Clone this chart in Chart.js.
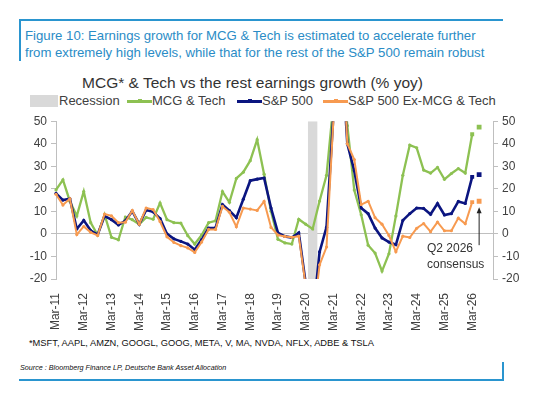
<!DOCTYPE html>
<html lang="en">
<head>
    <meta charset="UTF-8">
    <title>MCG & Tech vs the rest earnings growth</title>
    <script src="https://cdn.jsdelivr.net/npm/chart.js"></script>
    <style>
        body {
            margin: 0;
            padding: 0;
            width: 551px;
            height: 402px;
            background: #fff;
            font-family: "Liberation Sans", Arial, sans-serif;
            position: relative;
            overflow: hidden;
        }
        .abs { position: absolute; white-space: nowrap; }
        .frame { position: absolute; background: #2A95CF; }
        .fig-title {
            left: 25px; top: 27px;
            font-size: 13.2px; line-height: 17px;
            color: #2A8CC6;
        }
        .chart-title {
            left: 0; width: 505px; top: 74px;
            text-align: center;
            font-size: 15.5px; line-height: 18px;
            color: #333;
        }
        .leg { font-size: 13px; line-height: 14px; color: #404040; top: 94px; }
        .leg-line { position: absolute; top: 100px; width: 25px; height: 2.5px; }
        .leg-line::after {
            content: ""; position: absolute; left: 11px; top: -1px;
            width: 4px; height: 4px; background: inherit;
        }
        .chart-box { position: absolute; left: 0; top: 110px; width: 551px; height: 225px; }
        .note { font-size: 12px; line-height: 14px; color: #333; left: 427px; }
        .footnote { left: 29px; top: 337px; font-size: 9.3px; line-height: 12px; color: #111; }
        .source { left: 20px; top: 363px; font-size: 7.2px; line-height: 10px; font-style: italic; color: #111; }
    </style>
</head>
<body>

    <!-- blue frame round the figure -->
    <div class="frame" style="left:19px; top:19px; width:484px; height:2px;"></div>
    <div class="frame" style="left:19px; top:19px; width:2px; height:42px;"></div>
    <div class="frame" style="left:19px; top:379px; width:485px; height:2px;"></div>
    <div class="frame" style="left:502px; top:362px; width:2px; height:19px;"></div>

    <div class="abs fig-title">Figure 10: Earnings growth for MCG &amp; Tech is estimated to accelerate further<br>from extremely high levels, while that for the rest of the S&amp;P 500 remain robust</div>

    <div class="abs chart-title">MCG* &amp; Tech vs the rest earnings growth (% yoy)</div>

    <!-- legend -->
    <div class="abs" style="left:30px; top:95px; width:28px; height:12px; background:#D9D9D9;"></div>
    <div class="abs leg" style="left:59px;">Recession</div>
    <div class="leg-line" style="left:127px; background:#8DC152;"></div>
    <div class="abs leg" style="left:152px;">MCG &amp; Tech</div>
    <div class="leg-line" style="left:237px; background:#0B1580;"></div>
    <div class="abs leg" style="left:262px;">S&amp;P 500</div>
    <div class="leg-line" style="left:323px; background:#F79A50;"></div>
    <div class="abs leg" style="left:348px;">S&amp;P 500 Ex-MCG &amp; Tech</div>

    <div class="chart-box">
        <canvas id="chart"></canvas>
    </div>

    <div class="abs note" style="top:241px;">Q2 2026</div>
    <div class="abs note" style="top:257px;">consensus</div>

    <div class="abs footnote">*MSFT, AAPL, AMZN, GOOGL, GOOG, META, V, MA, NVDA, NFLX, ADBE &amp; TSLA</div>
    <div class="abs source">Source : Bloomberg Finance LP, Deutsche Bank Asset Allocation</div>

    <script>
        // quarters Mar-11 .. Dec-26
        const years = ['11', '12', '13', '14', '15', '16', '17', '18', '19', '20', '21', '22', '23', '24', '25', '26'];
        const months = ['Mar', 'Jun', 'Sep', 'Dec'];
        const quarterLabels = [];
        years.forEach(y => months.forEach(m => quarterLabels.push(m + '-' + y)));

        // actuals, Mar-11 .. Mar-26 (% yoy)
        const mcgTech = [
            19.5, 24, 14.5, 8,
            18.8, 5, -0.5, 8.5,
            -1.5, -2.6, 7.5, 6.3,
            4.3, 7.3, 6.5, 13.7,
            6.3, 5, 4.8, -0.8,
            -4.5, -0.5, 5, 5.8,
            18.8, 14, 24.6, 27.4,
            32.5, 41.8, 26.5, 10,
            -2.4, -4, -4.5, 6.5,
            4.3, 2.2, 14.6, 26,
            58, 85, 48, 19.5,
            8.5, -5, -8.5, -16.5,
            -8.8, 8, 26, 39.4,
            38.2, 28.3, 27, 29.5,
            24.2, 26.8, 29, 27,
            44.2
        ];
        const sp500 = [
            18, 15, 15.6, 2.2,
            6, 1.5, -0.3, 7.9,
            6.3, 4, 5.8, 10.1,
            4.3, 10.6, 9.8, 6.8,
            0, -2.2, -3.3, -4.5,
            -7, -2.5, 2.6, 2.7,
            13, 10.3, 7.2, 15.4,
            23.6, 24.3, 24.8, 11.5,
            0.5, -1.1, -1.6, 0.5,
            -22, -38, -8, 3,
            53, 90, 40, 28,
            11.5, 9, 2.6, -1.8,
            -3.6, -4.8, 6, 9,
            11.5, 11.3, 8.7, 13.5,
            8.4, 9, 14.4, 13.5,
            25.3
        ];
        const spExMcg = [
            17.6, 12.8, 15.6, -0.3,
            3.3, 0.7, -0.7, 8.8,
            8, 5, 5.2, 10.4,
            4.3, 11.5, 10.8, 5.5,
            -1.3, -3.8, -5.2, -6.2,
            -8.2, -3.6, 2, 2,
            12.2, 9.6, 3.2, 11.5,
            11, 10.4, 14.4, 2.9,
            -0.5, -1.1, -1.5, -1,
            -23, -40, -13.7, -5.8,
            51, 100, 40, 33,
            13, 14.5, 7.2, 4.3,
            -0.7, -7.9, -1, -1.6,
            2.5, 4.6, 1, 5.2,
            1.4, 1.4, 7, 4.5,
            14.1
        ];

        // Q2 2026 consensus
        const consensusQuarter = 'Jun-26';
        const mcgTechConsensus = 47.4;
        const sp500Consensus = 26.3;
        const spExMcgConsensus = 14.5;

        const recessionQuarters = ['Jun-20'];

        const yTicks = [-20, -10, 0, 10, 20, 30, 40, 50];

        const GREEN = '#8DC152';
        const NAVY = '#0B1580';
        const ORANGE = '#F79A50';
        const AXIS = '#BFBFBF';
        const TICK_TEXT = '#404040';

        const lastActual = mcgTech.length - 1;
        const consIndex = quarterLabels.indexOf(consensusQuarter);

        function pad(arr) {
            const out = arr.slice();
            while (out.length < quarterLabels.length) out.push(null);
            return out;
        }
        function single(value) {
            return quarterLabels.map((q, i) => i === consIndex ? value : null);
        }
        const recessionData = quarterLabels.map(q => recessionQuarters.includes(q) ? 1 : null);

        function lineSet(label, data, color, width, order) {
            return {
                type: 'line',
                label: label,
                data: pad(data),
                borderColor: color,
                backgroundColor: color,
                borderWidth: width,
                pointBackgroundColor: color,
                pointBorderWidth: 0,
                pointStyle: ctx => ctx.dataIndex === lastActual ? 'rect' : 'circle',
                pointRadius: ctx => ctx.dataIndex === lastActual ? 2.8 : 1.6,
                tension: 0,
                yAxisID: 'y',
                order: order
            };
        }
        function consSet(label, value, color, order) {
            return {
                type: 'line',
                label: label,
                data: single(value),
                showLine: false,
                pointStyle: 'rect',
                pointRadius: 3.4,
                pointBorderWidth: 0,
                pointBackgroundColor: color,
                yAxisID: 'y',
                order: order
            };
        }

        // arrow from the note up to the consensus marker
        const consensusArrow = {
            id: 'consensusArrow',
            afterDatasetsDraw(chart) {
                const x = chart.scales.x.getPixelForValue(consIndex);
                const yTip = chart.scales.y.getPixelForValue(spExMcgConsensus) + 6;
                const yFrom = chart.scales.y.getPixelForValue(-5);
                const c = chart.ctx;
                c.save();
                c.strokeStyle = '#222';
                c.fillStyle = '#222';
                c.lineWidth = 1;
                c.beginPath();
                c.moveTo(x, yFrom);
                c.lineTo(x, yTip + 4);
                c.stroke();
                c.beginPath();
                c.moveTo(x, yTip);
                c.lineTo(x - 2.5, yTip + 6);
                c.lineTo(x + 2.5, yTip + 6);
                c.closePath();
                c.fill();
                c.restore();
            }
        };

        const tickFont = { family: '"Liberation Sans", Arial, sans-serif', size: 12 };

        function yAxis(position, width, drawZero) {
            return {
                type: 'linear',
                position: position,
                min: -20,
                max: 50,
                afterBuildTicks: s => { s.ticks = yTicks.map(v => ({ value: v })); },
                ticks: { color: TICK_TEXT, font: tickFont, padding: 4 },
                grid: {
                    drawOnChartArea: drawZero,
                    color: ctx => (ctx.tick && ctx.tick.value === 0) ? AXIS : 'rgba(0,0,0,0)',
                    lineWidth: 1,
                    tickLength: 5,
                    tickColor: AXIS
                },
                border: { color: AXIS, width: 1 },
                afterFit: s => { s.width = width; }
            };
        }

        new Chart(document.getElementById('chart'), {
            type: 'line',
            data: {
                labels: quarterLabels,
                datasets: [
                    {
                        type: 'bar',
                        label: 'Recession',
                        data: recessionData,
                        backgroundColor: '#D9D9D9',
                        categoryPercentage: 1,
                        barPercentage: 1.35,
                        yAxisID: 'yRec',
                        order: 10
                    },
                    lineSet('MCG & Tech', mcgTech, GREEN, 2.3, 3),
                    lineSet('S&P 500', sp500, NAVY, 2.6, 2),
                    lineSet('S&P 500 Ex-MCG & Tech', spExMcg, ORANGE, 2, 1),
                    consSet('MCG & Tech consensus', mcgTechConsensus, GREEN, 3),
                    consSet('S&P 500 consensus', sp500Consensus, NAVY, 2),
                    consSet('S&P 500 Ex-MCG & Tech consensus', spExMcgConsensus, ORANGE, 1)
                ]
            },
            options: {
                responsive: true,
                maintainAspectRatio: false,
                animation: false,
                events: [],
                layout: { padding: { top: 8, left: 0, right: 0, bottom: 0 } },
                plugins: {
                    legend: { display: false },
                    tooltip: { enabled: false }
                },
                scales: {
                    x: {
                        type: 'category',
                        offset: false,
                        grid: { display: false, offset: false },
                        border: { display: false },
                        ticks: {
                            autoSkip: false,
                            maxRotation: 90,
                            minRotation: 90,
                            padding: 6,
                            color: TICK_TEXT,
                            font: tickFont,
                            callback: (v, i) => (i % 4 === 0 ? quarterLabels[i] : '')
                        },
                        afterFit: s => { s.height = 56; }
                    },
                    y: yAxis('left', 56, true),
                    y2: yAxis('right', 58, false),
                    yRec: { type: 'linear', display: false, min: 0, max: 1 }
                }
            },
            plugins: [consensusArrow]
        });
    </script>

</body>
</html>
